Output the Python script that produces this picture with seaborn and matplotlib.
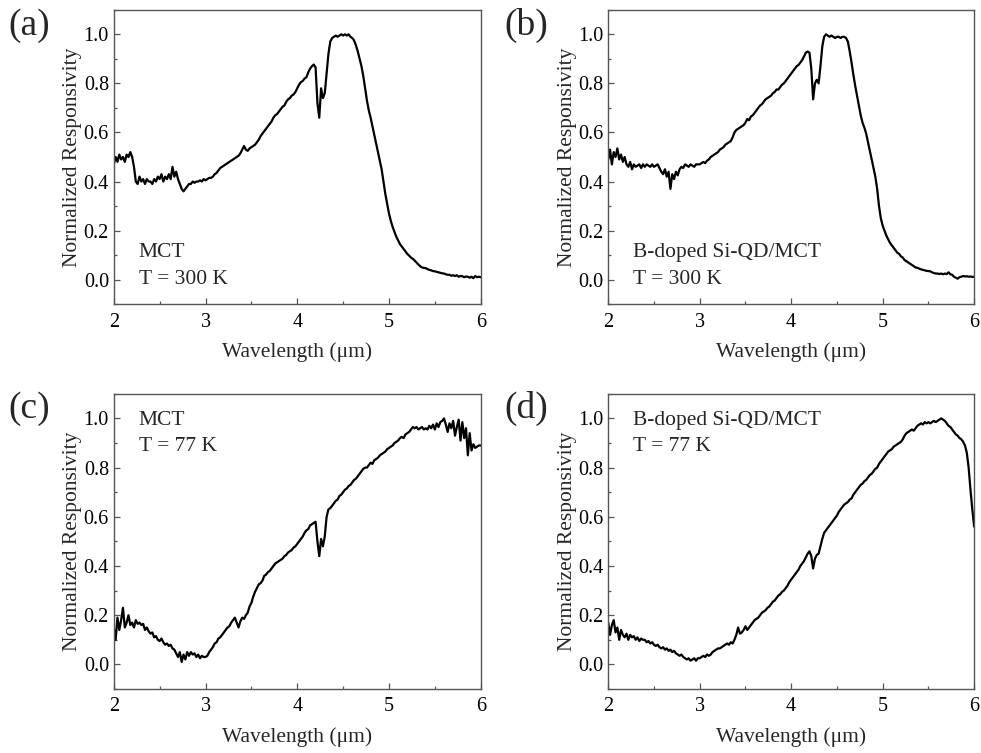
import numpy as np
import pandas as pd
import seaborn as sns
import matplotlib.pyplot as plt
from matplotlib.ticker import MultipleLocator

sns.set_theme(style="ticks")
plt.rcParams['font.family'] = ['Liberation Serif', 'DejaVu Serif']
plt.rcParams['mathtext.fontset'] = 'stix'

# wavelength grid (um), 0.02 um sampling
wavelength = np.round(np.linspace(2.0, 6.0, 201), 2)

# (a) MCT, T = 300 K
mct_300 = [
    0.47, 0.50, 0.48, 0.51, 0.49, 0.50, 0.48, 0.51, 0.50, 0.52,
    0.50, 0.46, 0.40, 0.39, 0.42, 0.40, 0.41, 0.39, 0.41, 0.40,
    0.40, 0.39, 0.41, 0.40, 0.42, 0.41, 0.43, 0.40, 0.42, 0.41,
    0.43, 0.41, 0.46, 0.42, 0.44, 0.41, 0.39, 0.37, 0.36, 0.37,
    0.38, 0.39, 0.39, 0.40, 0.395, 0.40, 0.40, 0.405, 0.40, 0.41,
    0.405, 0.41, 0.415, 0.415, 0.42, 0.43, 0.435, 0.445, 0.455, 0.46,
    0.465, 0.47, 0.475, 0.48, 0.485, 0.49, 0.495, 0.50, 0.505, 0.515,
    0.53, 0.545, 0.53, 0.525, 0.535, 0.54, 0.545, 0.55, 0.56, 0.57,
    0.585, 0.595, 0.605, 0.615, 0.625, 0.635, 0.645, 0.66, 0.67, 0.675,
    0.685, 0.695, 0.705, 0.71, 0.725, 0.735, 0.74, 0.75, 0.755, 0.765,
    0.78, 0.795, 0.805, 0.81, 0.82, 0.825, 0.845, 0.86, 0.87, 0.877,
    0.865, 0.72, 0.66, 0.78, 0.74, 0.76, 0.84, 0.92, 0.97, 0.985,
    0.99, 0.995, 0.99, 0.995, 1.0, 0.995, 1.0, 0.995, 1.0, 0.99,
    0.985, 0.975, 0.955, 0.93, 0.90, 0.87, 0.83, 0.78, 0.73, 0.69,
    0.66, 0.625, 0.59, 0.555, 0.52, 0.485, 0.45, 0.40, 0.35, 0.31,
    0.27, 0.24, 0.215, 0.195, 0.175, 0.16, 0.145, 0.135, 0.125, 0.115,
    0.105, 0.098, 0.09, 0.085, 0.078, 0.07, 0.062, 0.055, 0.05, 0.048,
    0.047, 0.043, 0.04, 0.038, 0.035, 0.034, 0.032, 0.03, 0.028, 0.026,
    0.025, 0.022, 0.02, 0.02, 0.016, 0.018, 0.015, 0.018, 0.012, 0.015,
    0.014, 0.01, 0.013, 0.012, 0.008, 0.012, 0.006, 0.015, 0.01, 0.012,
    0.01,
]

# (b) B-doped Si-QD/MCT, T = 300 K
qd_300 = [
    0.49, 0.53, 0.47, 0.52, 0.50, 0.535, 0.49, 0.51, 0.48, 0.50,
    0.47, 0.46, 0.48, 0.45, 0.47, 0.46, 0.465, 0.47, 0.455, 0.47,
    0.46, 0.47, 0.465, 0.46, 0.47, 0.46, 0.465, 0.47, 0.455, 0.44,
    0.43, 0.45, 0.42, 0.44, 0.37, 0.43, 0.41, 0.44, 0.425, 0.45,
    0.46, 0.455, 0.47, 0.465, 0.46, 0.47, 0.465, 0.46, 0.47, 0.47,
    0.47, 0.475, 0.48, 0.475, 0.485, 0.49, 0.50, 0.505, 0.51, 0.515,
    0.52, 0.53, 0.535, 0.54, 0.55, 0.555, 0.56, 0.565, 0.58, 0.60,
    0.61, 0.615, 0.62, 0.625, 0.63, 0.64, 0.655, 0.65, 0.665, 0.67,
    0.68, 0.69, 0.70, 0.71, 0.715, 0.725, 0.735, 0.74, 0.745, 0.75,
    0.76, 0.765, 0.775, 0.775, 0.785, 0.795, 0.80, 0.81, 0.82, 0.83,
    0.84, 0.85, 0.86, 0.87, 0.875, 0.885, 0.895, 0.91, 0.925, 0.93,
    0.925, 0.86, 0.735, 0.80, 0.815, 0.80, 0.87, 0.95, 0.99, 1.0,
    0.995, 0.99, 0.995, 0.99, 0.985, 0.99, 0.99, 0.985, 0.99, 0.99,
    0.985, 0.97, 0.93, 0.885, 0.835, 0.79, 0.75, 0.71, 0.67, 0.64,
    0.62, 0.595, 0.56, 0.525, 0.49, 0.455, 0.42, 0.37, 0.30, 0.25,
    0.22, 0.20, 0.18, 0.165, 0.15, 0.14, 0.13, 0.12, 0.11, 0.105,
    0.095, 0.09, 0.08, 0.075, 0.07, 0.065, 0.06, 0.055, 0.05, 0.048,
    0.045, 0.042, 0.04, 0.038, 0.036, 0.035, 0.034, 0.03, 0.027, 0.025,
    0.025, 0.023, 0.025, 0.022, 0.025, 0.023, 0.03, 0.022, 0.02, 0.012,
    0.008, 0.004, 0.01, 0.012, 0.015, 0.013, 0.014, 0.012, 0.013, 0.011,
    0.012,
]

# (c) MCT, T = 77 K
mct_77 = [
    0.15, 0.10, 0.19, 0.14, 0.18, 0.23, 0.15, 0.17, 0.20, 0.16,
    0.17, 0.15, 0.18, 0.165, 0.17, 0.16, 0.165, 0.14, 0.15, 0.135,
    0.125, 0.13, 0.11, 0.115, 0.10, 0.095, 0.105, 0.09, 0.08, 0.085,
    0.075, 0.08, 0.065, 0.06, 0.045, 0.03, 0.05, 0.01, 0.04, 0.02,
    0.05, 0.035, 0.05, 0.04, 0.045, 0.03, 0.04, 0.025, 0.035, 0.03,
    0.03, 0.035, 0.05, 0.06, 0.07, 0.085, 0.09, 0.105, 0.11, 0.12,
    0.13, 0.14, 0.15, 0.155, 0.17, 0.18, 0.19, 0.17, 0.15, 0.175,
    0.19, 0.185, 0.20, 0.21, 0.235, 0.25, 0.275, 0.295, 0.31, 0.325,
    0.33, 0.34, 0.36, 0.365, 0.375, 0.38, 0.39, 0.40, 0.41, 0.415,
    0.42, 0.425, 0.43, 0.44, 0.445, 0.455, 0.46, 0.465, 0.475, 0.48,
    0.49, 0.50, 0.51, 0.52, 0.535, 0.545, 0.55, 0.565, 0.57, 0.575,
    0.58, 0.50, 0.44, 0.51, 0.48, 0.52, 0.60, 0.63, 0.635, 0.645,
    0.655, 0.665, 0.67, 0.685, 0.69, 0.70, 0.71, 0.715, 0.725, 0.73,
    0.74, 0.75, 0.755, 0.765, 0.775, 0.785, 0.795, 0.80, 0.80, 0.81,
    0.82, 0.815, 0.83, 0.835, 0.84, 0.85, 0.855, 0.86, 0.865, 0.875,
    0.88, 0.885, 0.89, 0.90, 0.905, 0.91, 0.92, 0.925, 0.92, 0.935,
    0.94, 0.945, 0.955, 0.965, 0.96, 0.965, 0.955, 0.96, 0.965, 0.955,
    0.96, 0.955, 0.97, 0.96, 0.975, 0.955, 0.98, 0.965, 0.985, 0.99,
    1.0, 0.975, 0.945, 0.98, 0.96, 0.99, 0.93, 0.965, 0.995, 0.91,
    0.985, 0.92, 0.96, 0.85, 0.94, 0.87, 0.895, 0.88, 0.885, 0.89,
    0.89,
]

# (d) B-doped Si-QD/MCT, T = 77 K
qd_77 = [
    0.17, 0.12, 0.16, 0.18, 0.13, 0.15, 0.10, 0.14, 0.12, 0.11,
    0.125, 0.10, 0.12, 0.11, 0.115, 0.10, 0.11, 0.095, 0.105, 0.10,
    0.10, 0.09, 0.095, 0.085, 0.09, 0.08, 0.075, 0.08, 0.07, 0.065,
    0.07, 0.06, 0.065, 0.055, 0.06, 0.05, 0.055, 0.045, 0.04, 0.035,
    0.04, 0.03, 0.025, 0.02, 0.025, 0.015, 0.02, 0.025, 0.015, 0.025,
    0.025, 0.03, 0.035, 0.03, 0.04, 0.035, 0.04, 0.05, 0.055, 0.06,
    0.065, 0.065, 0.07, 0.075, 0.08, 0.085, 0.08, 0.09, 0.085, 0.10,
    0.12, 0.15, 0.125, 0.13, 0.14, 0.155, 0.14, 0.15, 0.16, 0.17,
    0.18, 0.185, 0.19, 0.20, 0.21, 0.215, 0.22, 0.23, 0.235, 0.245,
    0.255, 0.26, 0.27, 0.28, 0.285, 0.295, 0.30, 0.31, 0.32, 0.335,
    0.345, 0.355, 0.365, 0.375, 0.385, 0.40, 0.41, 0.42, 0.435, 0.45,
    0.46, 0.44, 0.39, 0.43, 0.445, 0.45, 0.48, 0.51, 0.535, 0.545,
    0.555, 0.565, 0.575, 0.585, 0.595, 0.605, 0.62, 0.63, 0.64, 0.65,
    0.655, 0.66, 0.67, 0.675, 0.69, 0.70, 0.71, 0.72, 0.73, 0.735,
    0.745, 0.75, 0.76, 0.77, 0.775, 0.785, 0.795, 0.80, 0.815, 0.825,
    0.835, 0.845, 0.855, 0.865, 0.87, 0.875, 0.885, 0.89, 0.895, 0.90,
    0.905, 0.915, 0.93, 0.94, 0.945, 0.95, 0.955, 0.95, 0.96, 0.97,
    0.975, 0.98, 0.975, 0.985, 0.98, 0.985, 0.98, 0.985, 0.99, 0.985,
    0.99, 0.995, 1.0, 0.995, 0.99, 0.98, 0.97, 0.965, 0.955, 0.945,
    0.935, 0.93, 0.92, 0.915, 0.905, 0.89, 0.86, 0.80, 0.71, 0.63,
    0.56,
]

panels = [
    ('(a)', mct_300, ['MCT', 'T = 300 K'], 'bottom'),
    ('(b)', qd_300, ['B-doped Si-QD/MCT', 'T = 300 K'], 'bottom'),
    ('(c)', mct_77, ['MCT', 'T = 77 K'], 'top'),
    ('(d)', qd_77, ['B-doped Si-QD/MCT', 'T = 77 K'], 'top'),
]

spine_color = '#555555'
fig = plt.figure(figsize=(9.81, 7.53), dpi=100)
# axes boxes [left, bottom, width, height] in figure fraction
boxes = [
    [0.116, 0.596, 0.374, 0.391],
    [0.620, 0.596, 0.373, 0.391],
    [0.116, 0.085, 0.374, 0.392],
    [0.620, 0.085, 0.373, 0.392],
]
label_pos = [(0.009, 0.966), (0.514, 0.966), (0.009, 0.457), (0.514, 0.457)]

for box, lp, (tag, resp, notes, where) in zip(boxes, label_pos, panels):
    ax = fig.add_axes(box)
    df = pd.DataFrame({'wl': wavelength, 'r': resp})
    sns.lineplot(data=df, x='wl', y='r', ax=ax, color='black', lw=1.6)
    ax.set_xlim(2, 6)
    ax.set_ylim(-0.1, 1.1)
    ax.xaxis.set_major_locator(MultipleLocator(1))
    ax.xaxis.set_minor_locator(MultipleLocator(0.5))
    ax.yaxis.set_major_locator(MultipleLocator(0.2))
    ax.yaxis.set_minor_locator(MultipleLocator(0.1))
    ax.yaxis.set_major_formatter(plt.FormatStrFormatter('%.1f'))
    ax.tick_params(which='both', direction='in', colors=spine_color,
                   labelcolor='black', labelsize=14.5, width=0.9)
    ax.tick_params(which='major', length=4)
    ax.tick_params(which='minor', length=2.5)
    ax.tick_params(axis='x', pad=6)
    for s in ax.spines.values():
        s.set_color(spine_color)
        s.set_linewidth(1.0)
    ax.set_xlabel('Wavelength (μm)', fontsize=15.5, labelpad=8)
    ax.set_ylabel('Normalized Responsivity', fontsize=15.5, labelpad=1)
    if where == 'bottom':
        ys = [0.11, 0.0]
    else:
        ys = [0.99, 0.885]
    for txt, yy in zip(notes, ys):
        ax.text(2.27, yy, txt, fontsize=15.5, va='center', ha='left')
    fig.text(lp[0], lp[1], tag, fontsize=27, va='center', ha='left')

fig.savefig('out.png', dpi=100)
